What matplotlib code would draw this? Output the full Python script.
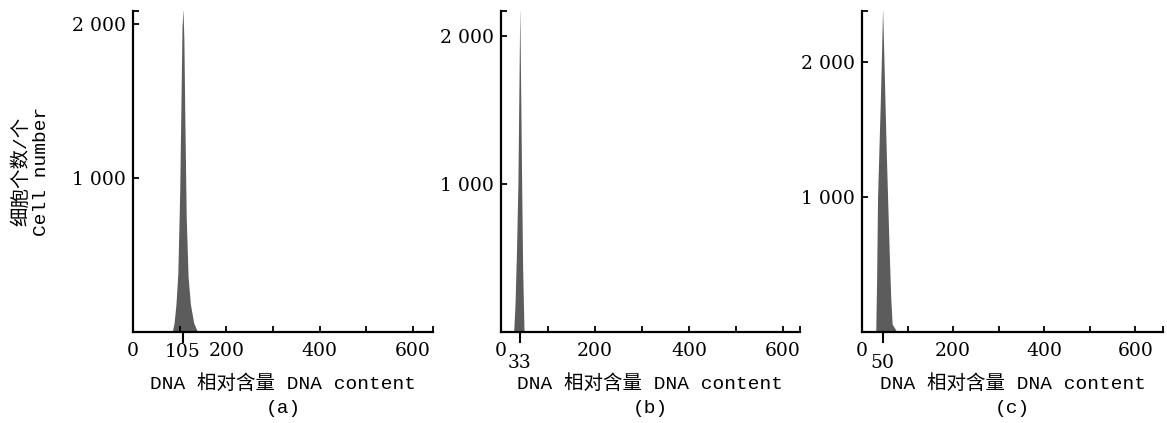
import matplotlib
matplotlib.use("Agg")
import matplotlib.pyplot as plt
from matplotlib.ticker import FixedLocator, NullFormatter

# DNA histogram profiles (x = DNA content, y = cell number)
a_x = [84, 88, 92, 96, 100, 103, 105, 107, 109, 111, 114, 118, 123, 130, 137]
a_y = [0, 60, 180, 380, 900, 1550, 1980, 2100, 1900, 1400, 750, 360, 180, 60, 10]

b_x = [27, 30, 33, 36, 38, 40, 42, 44, 46, 49]
b_y = [0, 200, 550, 1000, 1600, 2200, 1600, 1000, 450, 0]

c_x = [30, 32, 34, 37, 40, 43, 45, 47, 50, 53, 56, 60, 63, 66, 75]
c_y = [0, 400, 1000, 1350, 1700, 2100, 2400, 2150, 1750, 1350, 1000, 550, 250, 60, 10]

# peak marks: position on the axis and the printed label
peak_pos = [107, 40, 45]
peak_text = ["105", "33", "50"]
panel_names = ["(a)", "(b)", "(c)"]
x_max = [643, 636, 661]
y_max = [2084, 2167, 2378]

x_ticks = [0, 200, 400, 600]
x_minor = [100, 300, 500]
y_ticks = [1000, 2000]
y_ticklabels = ["1 000", "2 000"]

serif = ["DejaVu Serif"]
mono_cjk = ["Liberation Mono", "Noto Sans CJK SC", "DejaVu Sans"]


def main():
    fig = plt.figure(figsize=(11.67, 4.23), dpi=100)
    lefts = [0.114, 0.4293, 0.7387]
    widths = [0.257, 0.256, 0.258]
    peak_lab_y = [-0.062, -0.097, -0.095]

    data = [(a_x, a_y), (b_x, b_y), (c_x, c_y)]
    for i in range(3):
        ax = fig.add_axes([lefts[i], 0.215, widths[i], 0.759])
        xs, ys = data[i]
        ax.fill_between(xs, ys, 0, color="#5c5c5c", linewidth=0)
        ax.set_xlim(0, x_max[i])
        ax.set_ylim(0, y_max[i])

        for s in ["top", "right"]:
            ax.spines[s].set_visible(False)
        for s in ["left", "bottom"]:
            ax.spines[s].set_linewidth(1.6)

        ax.set_xticks(x_ticks)
        ax.set_xticklabels([str(t) for t in x_ticks], family=serif, fontsize=13.5)
        ax.xaxis.set_minor_locator(FixedLocator(x_minor + [x_max[i]]))
        ax.set_yticks(y_ticks)
        ax.set_yticklabels(y_ticklabels, family=serif, fontsize=13.5)
        ax.yaxis.set_minor_locator(FixedLocator([y_max[i]]))
        ax.yaxis.set_minor_formatter(NullFormatter())
        ax.tick_params(which="both", direction="in", length=4, width=1.3, color="black")
        ax.tick_params(axis="x", pad=7)
        ax.tick_params(axis="y", pad=5)

        # peak marker below the axis
        tr = ax.get_xaxis_transform()
        ax.plot([peak_pos[i], peak_pos[i]], [0, -0.03], transform=tr,
                color="black", lw=1.5, clip_on=False)
        ax.text(peak_pos[i], peak_lab_y[i], peak_text[i], transform=tr,
                ha="center", va="center", family=serif, fontsize=13.5)

        ax.text(0.5, -0.159, "DNA 相对含量 DNA content", transform=ax.transAxes,
                ha="center", va="center", family=mono_cjk, fontsize=14)
        ax.text(0.5, -0.237, panel_names[i], transform=ax.transAxes,
                ha="center", va="center", family=mono_cjk, fontsize=14)

        if i == 0:
            ax.text(-0.34, 0.5, "细胞个数/个\nCell number", transform=ax.transAxes,
                    rotation=90, ha="center", va="center", family=mono_cjk,
                    fontsize=14, linespacing=1.2)

    fig.savefig("out.png", dpi=100)


if __name__ == "__main__":
    main()
